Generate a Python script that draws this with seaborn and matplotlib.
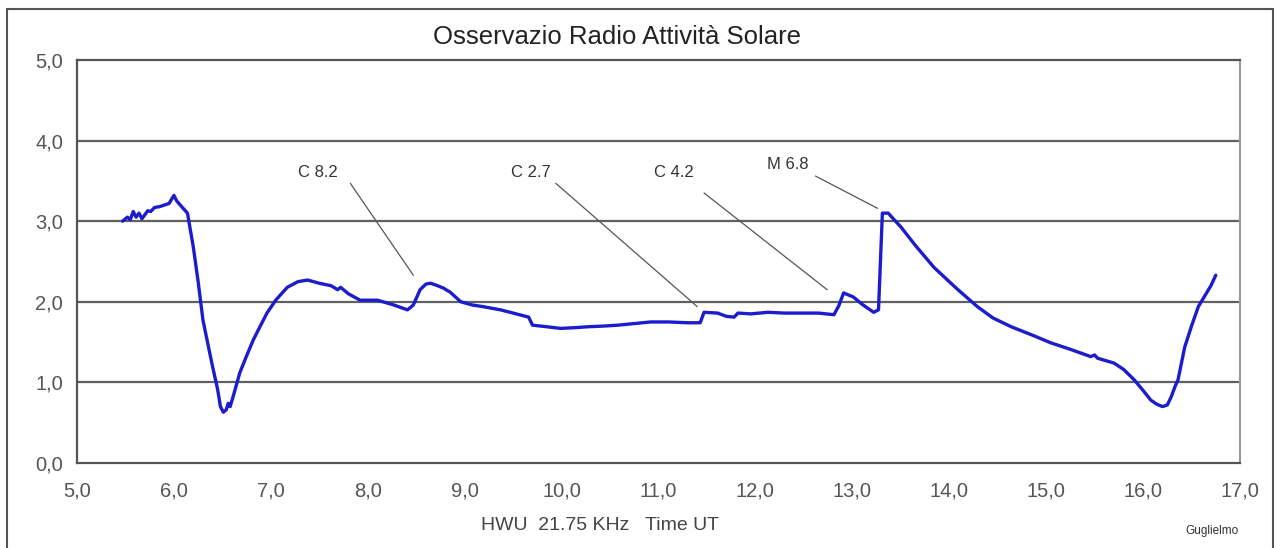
import numpy as np
import pandas as pd
import matplotlib
matplotlib.use("Agg")
import matplotlib.pyplot as plt
import seaborn as sns
from matplotlib.patches import Rectangle

# time (UT hours) and signal level
time_ut = [5.47, 5.52, 5.55, 5.58, 5.61, 5.64, 5.67, 5.70, 5.73, 5.76, 5.80, 5.85,
           5.90, 5.95, 6.00, 6.03, 6.08, 6.14, 6.20, 6.25, 6.30, 6.35, 6.40, 6.45,
           6.48, 6.51, 6.54, 6.56, 6.58, 6.61, 6.68, 6.75, 6.82, 6.90, 6.96, 7.05,
           7.17, 7.28, 7.38, 7.50, 7.62, 7.69, 7.72, 7.80, 7.92, 8.10, 8.27, 8.34,
           8.41, 8.47, 8.54, 8.60, 8.65, 8.72, 8.78, 8.85, 8.96, 9.08, 9.19, 9.37,
           9.50, 9.66, 9.70, 9.85, 9.99, 10.15, 10.27, 10.45, 10.58, 10.75, 10.92,
           11.10, 11.30, 11.43, 11.47, 11.61, 11.70, 11.78, 11.82, 11.95, 12.13,
           12.30, 12.47, 12.65, 12.81, 12.86, 12.91, 13.01, 13.10, 13.22, 13.27,
           13.29, 13.31, 13.37, 13.43, 13.50, 13.65, 13.84, 14.00, 14.09, 14.29,
           14.45, 14.64, 14.85, 15.05, 15.25, 15.46, 15.50, 15.53, 15.70, 15.80,
           15.91, 16.00, 16.08, 16.14, 16.20, 16.25, 16.29, 16.33, 16.36, 16.43,
           16.50, 16.57, 16.65, 16.70, 16.75]
signal = [3.00, 3.05, 3.02, 3.12, 3.05, 3.10, 3.03, 3.08, 3.13, 3.12, 3.17, 3.18,
          3.20, 3.22, 3.32, 3.25, 3.18, 3.10, 2.68, 2.25, 1.77, 1.48, 1.19, 0.92,
          0.70, 0.63, 0.66, 0.74, 0.70, 0.82, 1.12, 1.33, 1.53, 1.72, 1.86, 2.02,
          2.18, 2.25, 2.27, 2.23, 2.20, 2.15, 2.18, 2.10, 2.02, 2.02, 1.96, 1.93,
          1.90, 1.96, 2.15, 2.22, 2.23, 2.20, 2.17, 2.12, 2.00, 1.96, 1.94, 1.90,
          1.86, 1.81, 1.71, 1.69, 1.67, 1.68, 1.69, 1.70, 1.71, 1.73, 1.75,
          1.75, 1.74, 1.74, 1.87, 1.86, 1.82, 1.81, 1.86, 1.85, 1.87,
          1.86, 1.86, 1.86, 1.84, 1.95, 2.11, 2.06, 1.97, 1.87, 1.90,
          2.50, 3.10, 3.10, 3.02, 2.93, 2.70, 2.43, 2.25, 2.15, 1.94,
          1.80, 1.69, 1.59, 1.49, 1.41, 1.32, 1.34, 1.30, 1.24, 1.16,
          1.03, 0.90, 0.78, 0.73, 0.70, 0.72, 0.82, 0.95, 1.03, 1.44,
          1.70, 1.94, 2.10, 2.20, 2.33]

x_ticks = [5.0, 6.0, 7.0, 8.0, 9.0, 10.0, 11.0, 12.0, 13.0, 14.0, 15.0, 16.0, 17.0]
y_ticks = [0.0, 1.0, 2.0, 3.0, 4.0, 5.0]

# flare labels: text position and pointer line
flare_names = ["C 8.2", "C 2.7", "C 4.2", "M 6.8"]
flare_text = [(7.49, 3.61), (9.68, 3.61), (11.16, 3.60), (12.33, 3.70)]
flare_line_start = [(7.82, 3.47), (9.94, 3.47), (11.47, 3.35), (12.62, 3.56)]
flare_line_end = [(8.47, 2.33), (11.40, 1.94), (12.74, 2.15), (13.26, 3.16)]

df = pd.DataFrame({"time": time_ut, "level": signal})

sns.set_style("white")
plt.rcParams["font.family"] = ["Liberation Sans", "DejaVu Sans"]

W, H = 1282, 548
fig = plt.figure(figsize=(W / 100, H / 100), dpi=100)
ax = fig.add_axes([77 / W, (H - 463) / H, (1240 - 77) / W, (463 - 60) / H])

# outer chart frame (bottom edge runs off the picture)
fig.patches.append(Rectangle((7 / W, -5 / H), 1266 / W, (H - 9 + 5) / H,
                             transform=fig.transFigure, fill=False,
                             edgecolor="#555555", linewidth=1.5))

for yv in y_ticks[1:-1]:
    ax.axhline(yv, color="#606060", linewidth=1.6, zorder=1)

sns.lineplot(data=df, x="time", y="level", ax=ax, color="#1c1ccc",
             linewidth=2.4, zorder=3)

for name, tpos, p0, p1 in zip(flare_names, flare_text, flare_line_start, flare_line_end):
    ax.text(tpos[0], tpos[1], name, ha="center", va="center", fontsize=12,
            color="#333333")
    ax.plot([p0[0], p1[0]], [p0[1], p1[1]], color="#555555", linewidth=0.9, zorder=2)

ax.set_xlim(5, 17)
ax.set_ylim(0, 5)
ax.set_xticks(x_ticks)
ax.set_yticks(y_ticks)
ax.set_xticklabels([f"{v:.1f}".replace(".", ",") for v in x_ticks])
ax.set_yticklabels([f"{v:.1f}".replace(".", ",") for v in y_ticks])
ax.tick_params(axis="both", direction="out", length=5, width=1.2, color="#555555",
               labelsize=14.5, labelcolor="#555555")
ax.tick_params(axis="x", pad=8)
ax.tick_params(axis="y", pad=5)

for side in ["left", "bottom", "top"]:
    ax.spines[side].set_color("#555555")
    ax.spines[side].set_linewidth(1.6)
ax.spines["right"].set_color("#999999")
ax.spines["right"].set_linewidth(1.5)

ax.set_xlabel("")
ax.set_ylabel("")

fig.text(617 / W, 1 - 37 / H, "Osservazio Radio Attività Solare", fontsize=18.5,
         color="#222222", ha="center", va="center")
fig.text(600 / W, 1 - 526 / H, "HWU  21.75 KHz   Time UT", fontsize=14,
         color="#444444", ha="center", va="center")
fig.text(1212 / W, 1 - 531 / H, "Guglielmo", fontsize=8.5, color="#333333",
         ha="center", va="center")

fig.savefig("out.png", dpi=100)
